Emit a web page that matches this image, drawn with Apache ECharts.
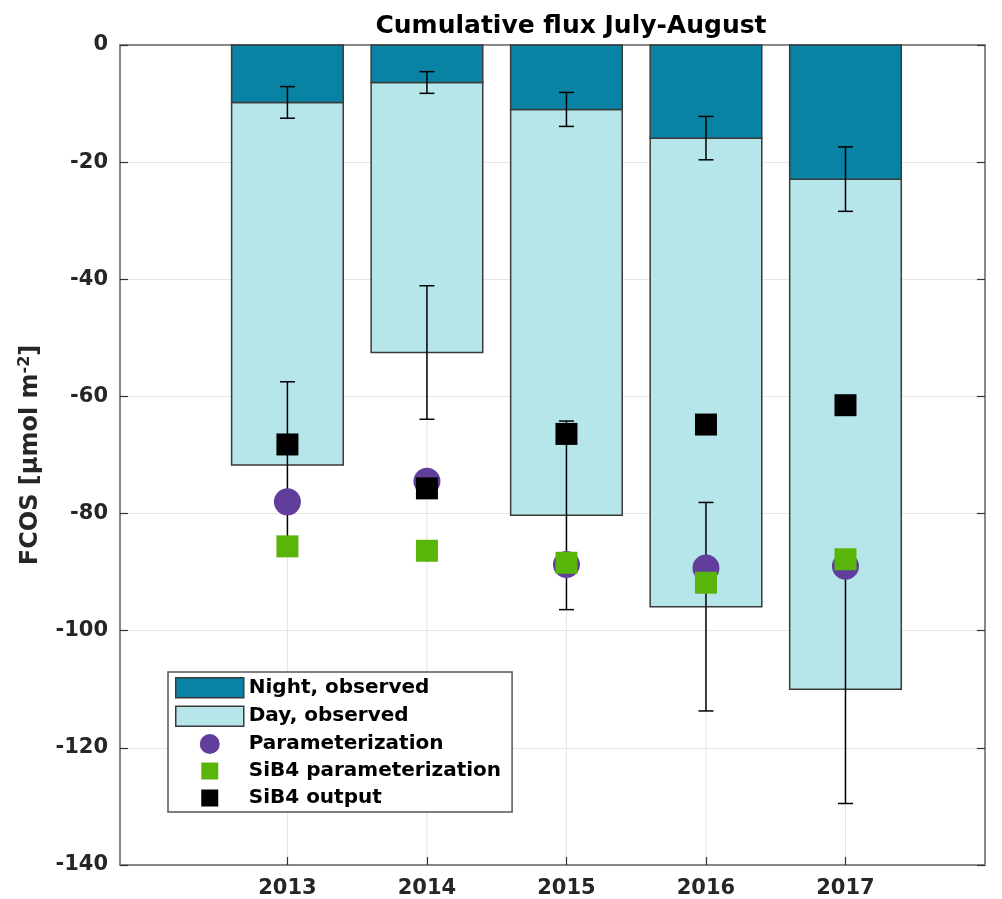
<!DOCTYPE html>
<html>
<head>
<meta charset="utf-8">
<script src="https://cdn.jsdelivr.net/npm/echarts@6/dist/echarts.min.js"></script>
<style>
html,body{margin:0;padding:0;background:#fff;}
#main{width:1002px;height:899px;}
</style>
</head>
<body>
<div id="main"></div>
<script>
// ---- data ----
const years = [2013, 2014, 2015, 2016, 2017];
const nightObs = [-9.8, -6.4, -11.0, -15.9, -22.9];          // bottom of night bar
const nightErr = [2.7, 1.85, 2.9, 3.7, 5.5];
const dayObs = [-71.7, -52.5, -80.3, -95.9, -110.0];         // bottom of day bar (cumulative)
const dayErr = [14.2, 11.4, 16.1, 17.8, 19.5];
const parameterization = [-78.0, -74.5, -88.7, -89.3, -89.0];
const sib4Param = [-85.6, -86.35, -88.4, -91.8, -87.8];
const sib4Output = [-68.2, -75.7, -66.4, -64.8, -61.5];
const xMin = 2011.8, xMax = 2018.0;
const yMin = -140, yMax = 0, yStep = 20;

const FONT = 'DejaVu Sans';
const nightColor = '#0883a4';
const dayColor = '#b6e6ea';
const edgeColor = '#3a3a3a';
const barW = 0.8;

function barRender(fill) {
  return function (params, api) {
    const x = api.value(0);
    const p1 = api.coord([x - barW / 2, api.value(1)]);
    const p2 = api.coord([x + barW / 2, api.value(2)]);
    return {
      type: 'rect',
      shape: { x: p1[0], y: p1[1], width: p2[0] - p1[0], height: p2[1] - p1[1] },
      style: { fill: fill, stroke: edgeColor, lineWidth: 1.5 }
    };
  };
}

const errData = [];
years.forEach((y, i) => {
  errData.push([y, nightObs[i], nightErr[i]]);
  errData.push([y, dayObs[i], dayErr[i]]);
});

const chart = echarts.init(document.getElementById('main'), null, { renderer: 'canvas' });
const sqIcon = 'path://M-1.5 -1.5 M0 0H17V17H0Z M18.5 18.5';

chart.setOption({
  animation: false,
  backgroundColor: '#fff',
  title: {
    text: 'Cumulative flux July-August',
    left: 566, top: 9, textAlign: 'center',
    textStyle: { fontFamily: FONT, fontWeight: 'bold', fontSize: 25, color: '#000' }
  },
  grid: { left: 120, right: 17, top: 45, bottom: 32, containLabel: false },
  legend: {
    orient: 'vertical', left: 168, top: 672,
    padding: [5, 11, 4, 7],
    itemWidth: 68, itemHeight: 20, itemGap: 7,
    backgroundColor: '#fff', borderColor: '#555', borderWidth: 1.5,
    symbolKeepAspect: true,
    selectedMode: false,
    textStyle: { fontFamily: FONT, fontWeight: 'bold', fontSize: 20, color: '#000', lineHeight: 20 },
    data: [
      { name: 'Night, observed', icon: 'rect', itemStyle: { color: nightColor, borderColor: edgeColor, borderWidth: 1.5 } },
      { name: 'Day, observed', icon: 'rect', itemStyle: { color: dayColor, borderColor: edgeColor, borderWidth: 1.5 } },
      { name: 'Parameterization', icon: 'circle', itemStyle: { color: '#613e9c' } },
      { name: 'SiB4 parameterization', icon: sqIcon, itemStyle: { color: '#59b50a' } },
      { name: 'SiB4 output', icon: sqIcon, itemStyle: { color: '#000' } }
    ]
  },
  xAxis: [
    {
      type: 'value', min: xMin, max: xMax, position: 'bottom',
      axisLine: { show: true, onZero: false, lineStyle: { color: '#888', width: 2 } },
      axisTick: { show: true, inside: true, length: 8, customValues: years, lineStyle: { color: '#333', width: 1.2 } },
      axisLabel: { show: true, customValues: years, margin: 13, formatter: v => String(Math.round(v)),
        fontFamily: FONT, fontWeight: 'bold', fontSize: 21, color: '#262626' },
      splitLine: { show: false }
    },
    {
      type: 'value', min: xMin, max: xMax, position: 'top',
      axisLine: { show: true, onZero: false, lineStyle: { color: '#888', width: 2 } },
      axisTick: { show: true, inside: true, length: 8, customValues: years, lineStyle: { color: '#333', width: 1.2 } },
      axisLabel: { show: false },
      splitLine: { show: false }
    }
  ],
  yAxis: [
    {
      type: 'value', min: yMin, max: yMax, interval: yStep, position: 'left',
      name: 'FCOS [μmol m{sup|-2}]',
      nameLocation: 'middle', nameRotate: 90, nameGap: 74,
      nameTextStyle: {
        fontFamily: FONT, fontWeight: 'bold', fontSize: 24, color: '#262626', lineHeight: 28,
        rich: { sup: { fontFamily: FONT, fontWeight: 'bold', fontSize: 16, color: '#262626', verticalAlign: 'top', lineHeight: 16 } }
      },
      axisLine: { show: true, onZero: false, lineStyle: { color: '#888', width: 2 } },
      axisTick: { show: true, inside: true, length: 8, lineStyle: { color: '#333', width: 1.2 } },
      axisLabel: { margin: 12, fontFamily: FONT, fontWeight: 'bold', fontSize: 21, color: '#262626' },
      splitLine: { show: true, lineStyle: { color: '#e6e6e6', width: 1.2 } }
    },
    {
      type: 'value', min: yMin, max: yMax, interval: yStep, position: 'right',
      axisLine: { show: true, onZero: false, lineStyle: { color: '#888', width: 2 } },
      axisTick: { show: true, inside: true, length: 8, lineStyle: { color: '#333', width: 1.2 } },
      axisLabel: { show: false },
      splitLine: { show: false }
    }
  ],
  series: [
    {
      name: 'xgrid', type: 'custom', silent: true, z: 0,
      data: years.map(y => [y]),
      renderItem: function (params, api) {
        const x = api.value(0);
        const a = api.coord([x, yMax]);
        const b = api.coord([x, yMin]);
        return { type: 'line', shape: { x1: a[0], y1: a[1], x2: b[0], y2: b[1] },
          style: { stroke: '#e6e6e6', lineWidth: 1.2 } };
      }
    },
    {
      name: 'Day, observed', type: 'custom', z: 2,
      itemStyle: { color: dayColor },
      data: years.map((y, i) => [y, nightObs[i], dayObs[i]]),
      renderItem: barRender(dayColor)
    },
    {
      name: 'Night, observed', type: 'custom', z: 2,
      itemStyle: { color: nightColor },
      data: years.map((y, i) => [y, 0, nightObs[i]]),
      renderItem: barRender(nightColor)
    },
    {
      name: 'errorbars', type: 'custom', z: 3, silent: true,
      data: errData,
      renderItem: function (params, api) {
        const x = api.value(0), c = api.value(1), e = api.value(2);
        const top = api.coord([x, c + e]);
        const bot = api.coord([x, c - e]);
        const cap = 7.5;
        const st = { stroke: '#000', lineWidth: 1.5 };
        return {
          type: 'group',
          children: [
            { type: 'line', shape: { x1: top[0], y1: top[1], x2: bot[0], y2: bot[1] }, style: st },
            { type: 'line', shape: { x1: top[0] - cap, y1: top[1], x2: top[0] + cap, y2: top[1] }, style: st },
            { type: 'line', shape: { x1: bot[0] - cap, y1: bot[1], x2: bot[0] + cap, y2: bot[1] }, style: st }
          ]
        };
      }
    },
    {
      name: 'Parameterization', type: 'scatter', z: 4,
      symbol: 'circle', symbolSize: 27,
      itemStyle: { color: '#613e9c', opacity: 1 },
      data: years.map((y, i) => [y, parameterization[i]])
    },
    {
      name: 'SiB4 parameterization', type: 'scatter', z: 5,
      symbol: 'rect', symbolSize: 22,
      itemStyle: { color: '#59b50a', opacity: 1 },
      data: years.map((y, i) => [y, sib4Param[i]])
    },
    {
      name: 'SiB4 output', type: 'scatter', z: 6,
      symbol: 'rect', symbolSize: 22,
      itemStyle: { color: '#000', opacity: 1 },
      data: years.map((y, i) => [y, sib4Output[i]])
    }
  ]
});
</script>
</body>
</html>
